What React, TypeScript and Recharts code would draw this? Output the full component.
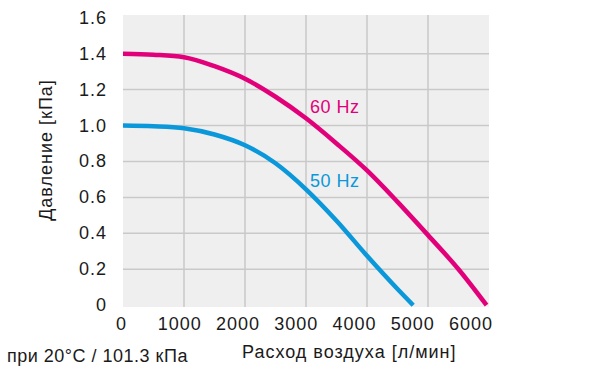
import React from 'react';
import { LineChart, Line, XAxis, YAxis, CartesianGrid, ReferenceDot } from 'recharts';

// Air flow [l/min] and pressure [kPa]
const flow60 = [0, 500, 1000, 1500, 2000, 2500, 3000, 3500, 4000, 4500, 5000, 5500, 5960];
const pressure60 = [1.4, 1.394, 1.38, 1.33, 1.26, 1.16, 1.04, 0.9, 0.75, 0.575, 0.39, 0.2, 0];
const flow50 = [0, 500, 1000, 1500, 2000, 2500, 3000, 3500, 4000, 4500, 4757];
const pressure50 = [1.0, 0.996, 0.985, 0.95, 0.89, 0.79, 0.645, 0.47, 0.275, 0.09, 0];

const xTicks = [0, 1000, 2000, 3000, 4000, 5000, 6000];
const yTicks = [0, 0.2, 0.4, 0.6, 0.8, 1.0, 1.2, 1.4, 1.6];
const gridX = [1000, 2000, 3000, 4000, 5000];
const gridY = [0.2, 0.4, 0.6, 0.8, 1.0, 1.2, 1.4];

const seriesNames = ['60 Hz', '50 Hz'];
const labelFlow = [3066, 3066];
const labelPressure = [1.072, 0.66];

const xTitle = 'Расход воздуха [л/мин]';
const yTitle = 'Давление [кПа]';
const footnote = 'при 20°C / 101.3 кПа';

const MAGENTA = '#E2007A';
const BLUE = '#0A98DA';
const TEXT = '#1a1a1a';
const FONT = '"Liberation Sans", Arial, sans-serif';
const FS = 18;
const LS = 1;

const data60 = flow60.map((q, i) => ({ q, p: pressure60[i] }));
const data50 = flow50.map((q, i) => ({ q, p: pressure50[i] }));
const colors = [MAGENTA, BLUE];

const PLOT_LEFT = 123;

const XTick = (props: any) => {
  const { x, y, payload } = props;
  const lx = PLOT_LEFT - 2 + (x - PLOT_LEFT) * 0.955 + LS / 2;
  return (
    <text x={lx} y={y + 22.5} textAnchor="middle" fontFamily={FONT} fontSize={FS} letterSpacing={LS} fill={TEXT}>
      {payload.value}
    </text>
  );
};

const YTick = (props: any) => {
  const { x, y, payload } = props;
  const v = payload.value;
  return (
    <text x={x - 16} y={y + 6} textAnchor="end" fontFamily={FONT} fontSize={FS} letterSpacing={LS} fill={TEXT}>
      {v === 0 ? '0' : v.toFixed(1)}
    </text>
  );
};

export default function App() {
  return (
    <div style={{ position: 'absolute', left: 0, top: 0, width: 600, height: 377, background: '#fff' }}>
      <LineChart width={600} height={377} margin={{ top: 15, right: 111, bottom: 0, left: 0 }}>
        <CartesianGrid
          fill="#efefef"
          stroke="#c9c9c9"
          strokeWidth={1.5}
          horizontalValues={gridY}
          verticalValues={gridX}
        />
        <XAxis
          type="number"
          dataKey="q"
          domain={[0, 6000]}
          ticks={xTicks}
          allowDataOverflow
          axisLine={false}
          tickLine={false}
          tickSize={0}
          tickMargin={0}
          height={70}
          tick={<XTick />}
          interval={0}
          label={{
            content: (p: any) => {
              const vb = p.viewBox || { x: 123, y: 307 };
              return (
                <g>
                  <text x={vb.x + 119} y={vb.y + 51} fontFamily={FONT} fontSize={FS} letterSpacing={LS} fill={TEXT}>
                    {xTitle}
                  </text>
                  <text x={vb.x - 116} y={vb.y + 55} fontFamily={FONT} fontSize={FS} letterSpacing={0.5} fill={TEXT}>
                    {footnote}
                  </text>
                </g>
              );
            },
          }}
        />
        <YAxis
          type="number"
          domain={[-0.01, 1.615]}
          ticks={yTicks}
          allowDataOverflow
          axisLine={false}
          tickLine={false}
          tickSize={0}
          tickMargin={0}
          width={123}
          tick={<YTick />}
          interval={0}
          label={{
            content: (p: any) => {
              const vb = p.viewBox || { x: 0, y: 15, width: 123, height: 292 };
              const cx = vb.x + 52;
              const cy = vb.y + vb.height / 2 - 11;
              return (
                <text
                  x={cx}
                  y={cy}
                  transform={`rotate(-90, ${cx}, ${cy})`}
                  textAnchor="middle"
                  fontFamily={FONT}
                  fontSize={FS}
                  letterSpacing={LS}
                  fill={TEXT}
                >
                  {yTitle}
                </text>
              );
            },
          }}
        />
        <Line
          data={data50}
          dataKey="p"
          type="monotone"
          stroke={BLUE}
          strokeWidth={4.5}
          dot={false}
          activeDot={false}
          isAnimationActive={false}
        />
        <Line
          data={data60}
          dataKey="p"
          type="monotone"
          stroke={MAGENTA}
          strokeWidth={4.5}
          dot={false}
          activeDot={false}
          isAnimationActive={false}
        />
        {seriesNames.map((name, i) => (
          <ReferenceDot
            key={name}
            x={labelFlow[i]}
            y={labelPressure[i]}
            r={0}
            fill="none"
            stroke="none"
            label={(p: any) => {
              const vb = p.viewBox || { x: 0, y: 0 };
              return (
                <text x={vb.x} y={vb.y} fontFamily={FONT} fontSize={FS} letterSpacing={0.5} fill={colors[i]}>
                  {name}
                </text>
              );
            }}
          />
        ))}
      </LineChart>
    </div>
  );
}
